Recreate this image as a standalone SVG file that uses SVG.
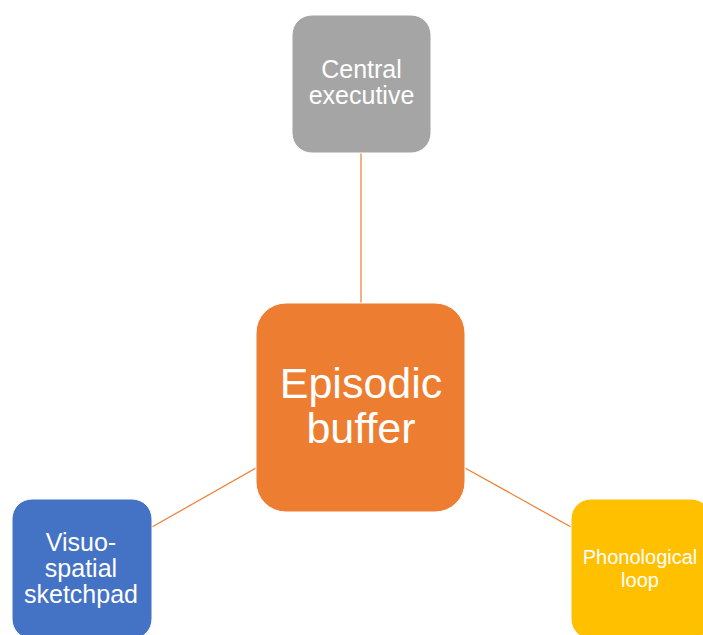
<svg xmlns="http://www.w3.org/2000/svg" width="703" height="635" viewBox="0 0 703 635">
<style>
.lbl{font-family:"Liberation Sans",Arial,sans-serif;fill:#fff;text-anchor:middle}
.conn{stroke:#ED7D31;stroke-width:1.2;fill:none}
</style>
<rect width="703" height="635" fill="#fff"/>
<g id="connectors">
<line class="conn" x1="361" y1="153" x2="361" y2="303"/>
<line class="conn" x1="152" y1="527" x2="256" y2="468"/>
<line class="conn" x1="465" y1="468" x2="571" y2="527"/>
</g>
<g id="central-executive">
<rect x="292" y="15" width="139" height="138" rx="20" fill="#A5A5A5" stroke="#fff" stroke-width="1"/>
<text class="lbl" x="361.5" y="78" font-size="25">Central</text>
<text class="lbl" x="361.5" y="104" font-size="25">executive</text>
</g>
<g id="episodic-buffer">
<rect x="256" y="303" width="209" height="209" rx="30" fill="#ED7D31" stroke="#fff" stroke-width="1"/>
<text class="lbl" x="361" y="398" font-size="43">Episodic</text>
<text class="lbl" x="361" y="443" font-size="43">buffer</text>
</g>
<g id="visuo-spatial-sketchpad">
<rect x="12" y="499" width="140" height="140" rx="20" fill="#4472C4" stroke="#fff" stroke-width="1"/>
<text class="lbl" x="81" y="551" font-size="25">Visuo-</text>
<text class="lbl" x="81" y="577" font-size="25">spatial</text>
<text class="lbl" x="81" y="603" font-size="25">sketchpad</text>
</g>
<g id="phonological-loop">
<rect x="571" y="499" width="140" height="140" rx="20" fill="#FFC000" stroke="#fff" stroke-width="1"/>
<text class="lbl" x="640" y="564" font-size="20">Phonological</text>
<text class="lbl" x="640" y="587" font-size="20">loop</text>
</g>
</svg>
